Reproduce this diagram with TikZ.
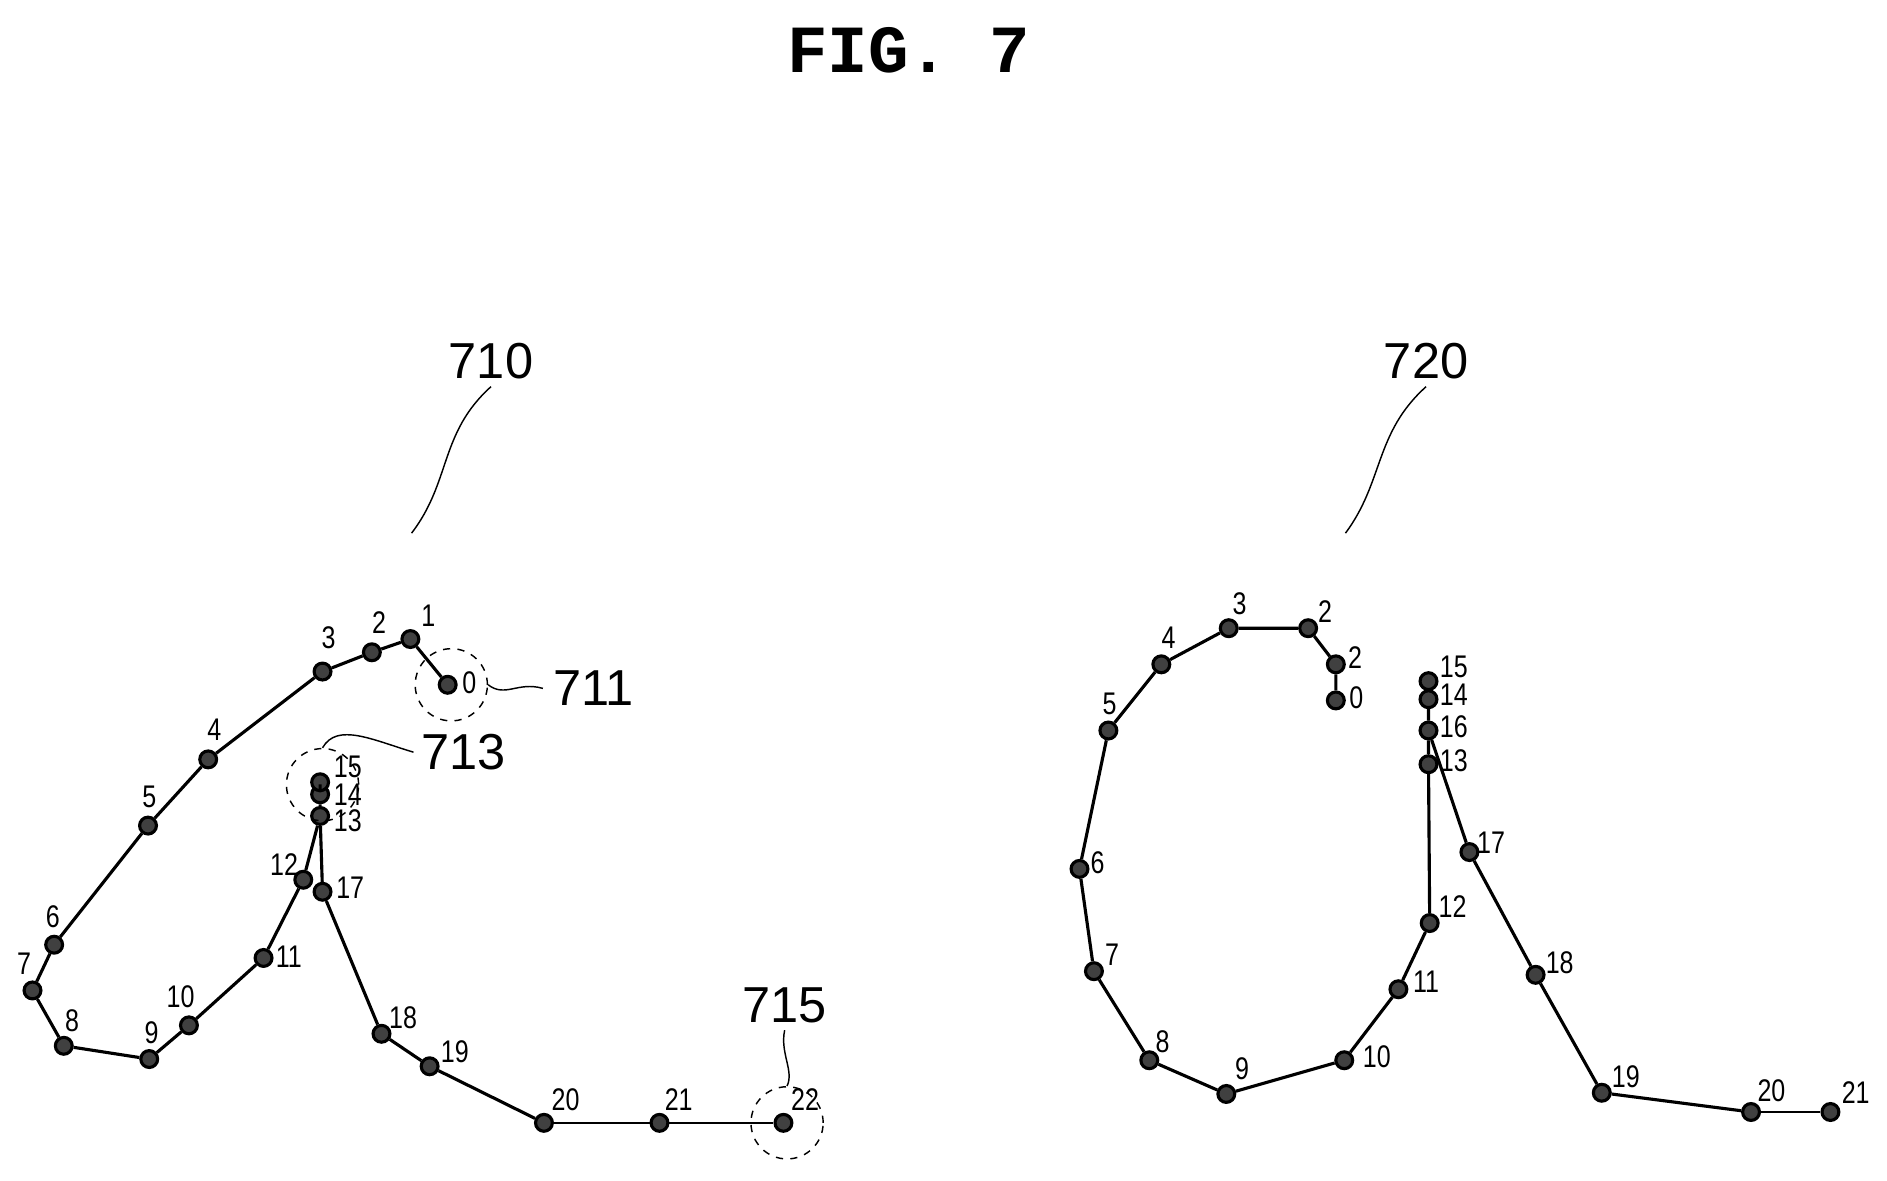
\documentclass[tikz,border=0pt]{standalone}
\usepackage{fontspec}
\setmainfont{Liberation Sans}
\newfontfamily\figfont{Liberation Mono}
\begin{document}
\begin{tikzpicture}[x=0.5pt,y=-0.5pt,
  dot/.style={circle,draw=black,fill=black!75,line width=1.3pt,inner sep=0pt,minimum size=7pt},
  lab/.style={font=\fontsize{13}{13}\selectfont,inner sep=0pt,xscale=0.8},
  big/.style={font=\fontsize{21}{21}\selectfont,inner sep=0pt},
  ln/.style={line width=1.3pt},
  thin/.style={line width=0.6pt},
  ring/.style={circle,dashed,draw,line width=0.6pt,inner sep=0pt,minimum size=30pt}]
\useasboundingbox (0,0) rectangle (1568,981);
\node[font=\figfont\bfseries\fontsize{28}{28}\selectfont] (fig) at (755,42) {FIG. 7};
% 710
\foreach \n/\x/\y in {0/372/569,1/341/531,2/309/542,3/268/558,4/173/631,5/123/686,6/45/785,7/27/823,8/53/869,9/124/880,10/157/852,11/219/796,12/252/731,13/266/678,14/266/660,15/266/650,17/268/741,18/317/859,19/357/886,20/452/933,21/548/933,22/651/933}
  \node[dot] (a\n) at (\x,\y) {};
\draw[ln] (a0)--(a1)--(a2)--(a3)--(a4)--(a5)--(a6)--(a7)--(a8)--(a9)--(a10)--(a11)--(a12)--(a13)--(a14)--(a15);
\draw[ln] (a13)--(a17)--(a18)--(a19)--(a20);
\draw[thin] (a20)--(a21)--(a22);
\foreach \n/\x/\y in {0/390/567,1/356/512,2/315/517,3/273/530,4/178/606,5/124/662,6/44/762,7/20/801,8/60/848,9/126/858,10/150/828,11/240/795,12/236/718,13/289/682,14/289/660,15/289/637,17/291/738,18/335/846,19/378/874,20/470/914,21/564/914,22/669/914}
  \node[lab] (la\n) at (\x,\y) {\n};
\node[ring] (r711) at (375,569) {};
\node[ring] (r713) at (268,652) {};
\node[ring] (r715) at (654,933) {};
\node[big] (n711) at (493,572) {711};
\node[big] (n713) at (385,625) {713};
\node[big] (n715) at (652,835) {715};
\node[big] (n710) at (408,300) {710};
\node[big] (n720) at (1185,300) {720};
\coordinate (e710) at (342,443);
\coordinate (e720) at (1118,443);
\draw[thin] (r711.east) .. controls (420,580) and (430,566) .. ([xshift=-4pt]n711.west);
\draw[thin] (r713.north) .. controls (280,600) and (310,615) .. ([xshift=-3pt]n713.west);
\draw[thin] (r715.north) .. controls (660,890) and (648,875) .. ([yshift=-3pt]n715.south);
\draw[thin] (e710) .. controls (375,400) and (365,360) .. ([yshift=-3pt]n710.south);
\draw[thin] (e720) .. controls (1150,400) and (1142,360) .. ([yshift=-3pt]n720.south);
% 720
\foreach \n/\x/\y in {0/1110/582,2b/1110/552,2/1087/522,3/1021/522,4/965/552,5/921/607,6/897/722,7/909/807,8/955/881,9/1019/909,10/1117/881,11/1162/822,12/1188/767,13/1187/635,16/1187/607,14/1187/581,15/1187/566,17/1221/708,18/1276/810,19/1331/908,20/1455/924,21/1521/924}
  \node[dot] (b\n) at (\x,\y) {};
\draw[ln] (b0)--(b2b)--(b2)--(b3)--(b4)--(b5)--(b6)--(b7)--(b8)--(b9)--(b10)--(b11)--(b12)--(b13)--(b16)--(b14)--(b15);
\draw[ln] (b16)--(b17)--(b18)--(b19)--(b20);
\draw[thin] (b20)--(b21);
\foreach \n/\t/\x/\y in {0/0/1127/580,2b/2/1126/546,2/2/1101/508,3/3/1030/502,4/4/971/530,5/5/922/585,6/6/912/717,7/7/924/793,8/8/966/866,9/9/1032/888,10/10/1144/878,11/11/1185/816,12/12/1207/753,13/13/1208/632,16/16/1208/604,14/14/1208/577,15/15/1208/554,17/17/1239/700,18/18/1296/800,19/19/1351/895,20/20/1472/906,21/21/1542/908}
  \node[lab] (lb\n) at (\x,\y) {\t};
\end{tikzpicture}
\end{document}
